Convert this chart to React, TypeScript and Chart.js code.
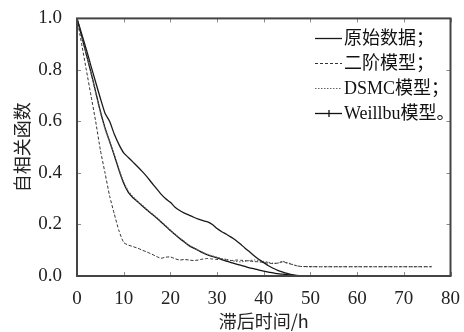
import React, { useEffect, useRef } from "react";
import { Chart, registerables } from "chart.js";

Chart.register(...registerables);

// ---- data ----
const lagHours = [
  0, 1, 2, 3, 4, 5, 6, 7, 8, 9, 10, 11, 12, 13, 14, 15, 16, 17, 18, 19, 20,
  21, 22, 23, 24, 25, 26, 27, 28, 29, 30, 31, 32, 33, 34, 35, 36, 37, 38, 39,
  40, 41, 42, 43, 44, 45, 46, 47, 48, 52, 56, 60, 64, 68, 72, 76,
];

const originalData = [
  1.0, 0.94, 0.88, 0.815, 0.752, 0.69, 0.632, 0.6, 0.55, 0.51, 0.478, 0.46,
  0.442, 0.424, 0.405, 0.385, 0.362, 0.34, 0.318, 0.3, 0.286, 0.267, 0.254,
  0.244, 0.236, 0.228, 0.221, 0.215, 0.21, 0.2, 0.184, 0.172, 0.162, 0.151,
  0.139, 0.124, 0.108, 0.093, 0.078, 0.064, 0.052, 0.04, 0.03, 0.022, 0.016,
  0.01, 0.005, 0.002, 0, 0, 0, 0, 0, 0, 0, 0,
];

const secondOrderModel = [
  1.0, 0.9, 0.8, 0.7, 0.6, 0.49, 0.4, 0.31, 0.24, 0.175, 0.13, 0.12, 0.114,
  0.108, 0.1, 0.093, 0.085, 0.076, 0.069, 0.073, 0.074, 0.067, 0.062, 0.064,
  0.062, 0.06, 0.062, 0.066, 0.068, 0.066, 0.064, 0.066, 0.063, 0.06, 0.062,
  0.061, 0.06, 0.058, 0.056, 0.055, 0.052, 0.05, 0.048, 0.05, 0.055, 0.05,
  0.045, 0.04, 0.037, 0.036, 0.036, 0.036, 0.036, 0.036, 0.036, 0.036,
];

const dsmcModel = [
  1.0, 0.932, 0.862, 0.788, 0.712, 0.635, 0.57, 0.52, 0.47, 0.415, 0.365,
  0.33, 0.308, 0.29, 0.275, 0.258, 0.243, 0.228, 0.212, 0.195, 0.178, 0.162,
  0.148, 0.134, 0.12, 0.11, 0.1, 0.091, 0.084, 0.078, 0.073, 0.068, 0.064,
  0.06, 0.057, 0.055, 0.057, 0.06, 0.062, 0.06, 0.057, 0.053, 0.05, 0.05,
  0.057, 0.052, 0.046, 0.04, 0.037, 0.036, 0.036, 0.036, 0.036, 0.036, 0.036,
  0.036,
];

const weibullModel = [
  1.0, 0.93, 0.86, 0.79, 0.715, 0.64, 0.575, 0.522, 0.468, 0.41, 0.36, 0.325,
  0.304, 0.288, 0.272, 0.256, 0.241, 0.226, 0.21, 0.193, 0.177, 0.161, 0.146,
  0.132, 0.118, 0.108, 0.099, 0.09, 0.082, 0.076, 0.07, 0.064, 0.058, 0.052,
  0.047, 0.042, 0.037, 0.032, 0.028, 0.023, 0.019, 0.015, 0.012, 0.009,
  0.007, 0.005, 0.003, 0.001, 0, 0, 0, 0, 0, 0, 0, 0,
];

const seriesLabels = ["原始数据；", "二阶模型；", "DSMC模型；", "Weillbu模型。"];
const xTitle = "滞后时间/h";
const yTitle = "自相关函数";

const xMin = 0;
const xMax = 80;
const xStep = 10;
const yMin = 0;
const yMax = 1.0;
const yStep = 0.2;

const LATIN = "'Liberation Serif', 'Noto Sans CJK SC', serif";
const CJK = "'Noto Sans CJK SC', 'Liberation Serif', sans-serif";

const toPoints = (ys: number[]) => lagHours.map((x, i) => ({ x, y: ys[i] }));

const frameAndLegend = {
  id: "frameAndLegend",
  afterDraw(chart: any) {
    const { ctx, chartArea, scales } = chart;
    const { left, right, top, bottom } = chartArea;
    ctx.save();
    // inward ticks on all four sides
    ctx.strokeStyle = "#8a8a8a";
    ctx.lineWidth = 1;
    const tl = 4;
    scales.x.ticks.forEach((t: any) => {
      const px = Math.round(scales.x.getPixelForValue(t.value)) + 0.5;
      ctx.beginPath();
      ctx.moveTo(px, bottom);
      ctx.lineTo(px, bottom - tl);
      ctx.moveTo(px, top);
      ctx.lineTo(px, top + tl);
      ctx.stroke();
    });
    scales.y.ticks.forEach((t: any) => {
      const py = Math.round(scales.y.getPixelForValue(t.value)) + 0.5;
      ctx.beginPath();
      ctx.moveTo(left, py);
      ctx.lineTo(left + tl, py);
      ctx.moveTo(right, py);
      ctx.lineTo(right - tl, py);
      ctx.stroke();
    });
    // frame
    ctx.strokeStyle = "#444";
    ctx.lineWidth = 2;
    ctx.strokeRect(left, top, right - left, bottom - top);

    // legend
    const rows = [38, 63, 88, 113];
    const x0 = 315;
    const x1 = 342;
    chart.data.datasets.forEach((ds: any, i: number) => {
      const y = rows[i] + 0.5;
      ctx.strokeStyle = ds.borderColor;
      ctx.lineWidth = ds.borderWidth;
      ctx.setLineDash(ds.borderDash || []);
      ctx.beginPath();
      ctx.moveTo(x0, y);
      ctx.lineTo(x1, y);
      ctx.stroke();
      ctx.setLineDash([]);
      if (i === 3) {
        const mx = (x0 + x1) / 2 + 0.5;
        ctx.beginPath();
        ctx.moveTo(mx, y - 3.5);
        ctx.lineTo(mx, y + 3.5);
        ctx.stroke();
      }
      ctx.fillStyle = "#111";
      ctx.font = `18px ${LATIN}`;
      ctx.textBaseline = "middle";
      ctx.textAlign = "left";
      ctx.fillText(ds.label, x1 + 2, rows[i] + 1);
    });
    ctx.restore();
  },
};

export default function App() {
  const canvasRef = useRef<HTMLCanvasElement | null>(null);

  useEffect(() => {
    const canvas = canvasRef.current;
    if (!canvas) return;
    const chart = new Chart(canvas, {
      type: "line",
      data: {
        datasets: [
          {
            label: seriesLabels[0],
            data: toPoints(originalData),
            borderColor: "#1a1a1a",
            borderWidth: 1.3,
            pointRadius: 0,
            tension: 0.2,
          },
          {
            label: seriesLabels[1],
            data: toPoints(secondOrderModel),
            borderColor: "#333",
            borderWidth: 1,
            borderDash: [3, 2],
            pointRadius: 0,
            tension: 0.2,
          },
          {
            label: seriesLabels[2],
            data: toPoints(dsmcModel),
            borderColor: "#666",
            borderWidth: 1.1,
            borderDash: [1.5, 1.5],
            pointRadius: 0,
            tension: 0.2,
          },
          {
            label: seriesLabels[3],
            data: toPoints(weibullModel),
            borderColor: "#111",
            borderWidth: 1.3,
            pointRadius: 0,
            tension: 0.2,
          },
        ],
      },
      options: {
        responsive: false,
        animation: false,
        layout: { padding: { left: 0, right: 12, top: 17, bottom: 0 } },
        plugins: {
          legend: { display: false },
          tooltip: { enabled: false },
        },
        scales: {
          x: {
            type: "linear",
            min: xMin,
            max: xMax,
            grid: { display: false },
            border: { display: false },
            ticks: {
              stepSize: xStep,
              padding: 4,
              color: "#222",
              font: { family: LATIN, size: 19 },
              maxRotation: 0,
            },
            title: {
              display: true,
              text: xTitle,
              color: "#222",
              font: { family: CJK, size: 18 },
              padding: { top: 0, bottom: 0 },
            },
            afterFit: (s: any) => {
              s.height = 56;
            },
          },
          y: {
            type: "linear",
            min: yMin,
            max: yMax,
            grid: { display: false },
            border: { display: false },
            ticks: {
              stepSize: yStep,
              padding: 7,
              color: "#222",
              font: { family: LATIN, size: 19 },
              callback: (v: any) => Number(v).toFixed(1),
            },
            title: {
              display: true,
              text: yTitle,
              color: "#222",
              font: { family: CJK, size: 18 },
              padding: { top: 11, bottom: 0 },
            },
            afterFit: (s: any) => {
              s.width = 77;
            },
          },
        },
      },
      plugins: [frameAndLegend],
    });
    return () => chart.destroy();
  }, []);

  return (
    <div style={{ position: "absolute", left: 0, top: 0, width: 464, height: 332, background: "#fff" }}>
      <canvas ref={canvasRef} width={464} height={332} style={{ display: "block" }} />
    </div>
  );
}
